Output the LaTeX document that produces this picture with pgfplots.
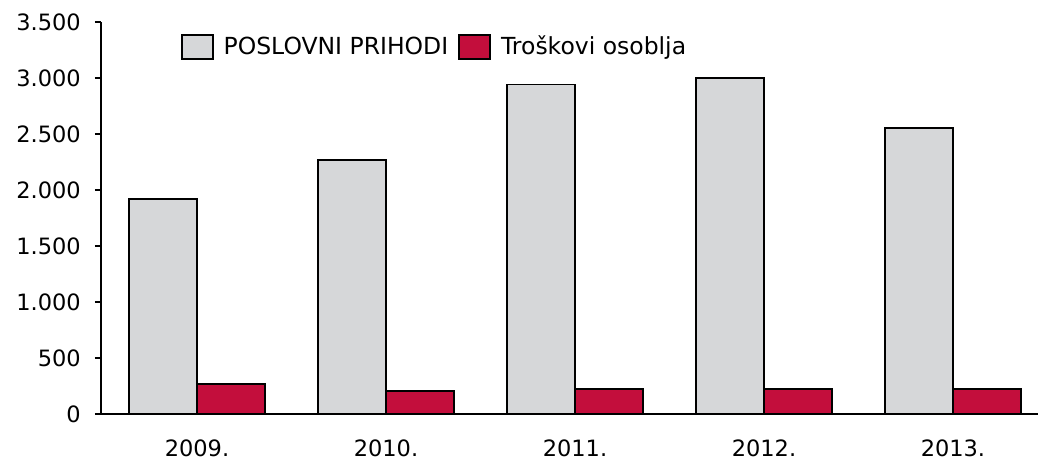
\documentclass[border=0pt]{standalone}
\usepackage{pgfplots}
\pgfplotsset{compat=1.18}
\usepackage{fontspec}
\setmainfont{DejaVu Sans}
\definecolor{barGray}{HTML}{D6D7D9}
\definecolor{barRed}{HTML}{C30E3C}
\begin{document}
\fontsize{22pt}{26pt}\selectfont
\begin{tikzpicture}
\begin{axis}[
  scale only axis,
  width=937pt, height=392pt,
  xmin=-0.508, xmax=4.45,
  ymin=0, ymax=3500,
  ytick={0,500,1000,1500,2000,2500,3000,3500},
  xtick={0,1,2,3,4},
  xticklabels={2009.,2010.,2011.,2012.,2013.},
  axis x line=bottom, axis y line=left,
  axis line style={line width=1.8pt, -},
  x axis line style={-},
  y axis line style={-},
  tick align=outside,
  major tick length=6pt,
  ytick style={line width=1.8pt, black},
  xtick style={draw=none},
  /pgf/number format/.cd, 1000 sep={.}, assume math mode=true,
  /pgfplots/.cd,
  tick label style={font=\fontsize{22.5pt}{26pt}\selectfont},
  yticklabel style={inner sep=0pt, xshift=-14pt},
  xticklabel style={inner sep=0pt, anchor=north, yshift=-20pt},
  ybar=0pt, bar width=68pt,
  legend columns=2,
  legend style={draw=none, fill=none, at={(0.085,0.936)}, anchor=west,
    inner sep=0pt,
    font=\fontsize{23.5pt}{28pt}\selectfont,
    nodes={inner sep=0pt},
    /tikz/every odd column/.append style={column sep=10pt},
    /tikz/every even column/.append style={column sep=10pt}},
  legend image code/.code={\draw[#1, draw=black, line width=1.8pt] (0pt,-12pt) rectangle (31pt,12pt);},
]
\addplot[fill=barGray, draw=black, line width=1.8pt] coordinates {(0,1920) (1,2268) (2,2942) (3,3000) (4,2555)};
\addplot[fill=barRed, draw=black, line width=1.8pt] coordinates {(0,268) (1,205) (2,223) (3,223) (4,223)};
\legend{POSLOVNI PRIHODI, Troškovi osoblja}
\coordinate (O) at (rel axis cs:0,0);
\end{axis}
\pgfresetboundingbox
\path[use as bounding box] (O) ++(-101pt,-48pt) rectangle ++(1039pt,462pt);
\end{tikzpicture}
\end{document}
